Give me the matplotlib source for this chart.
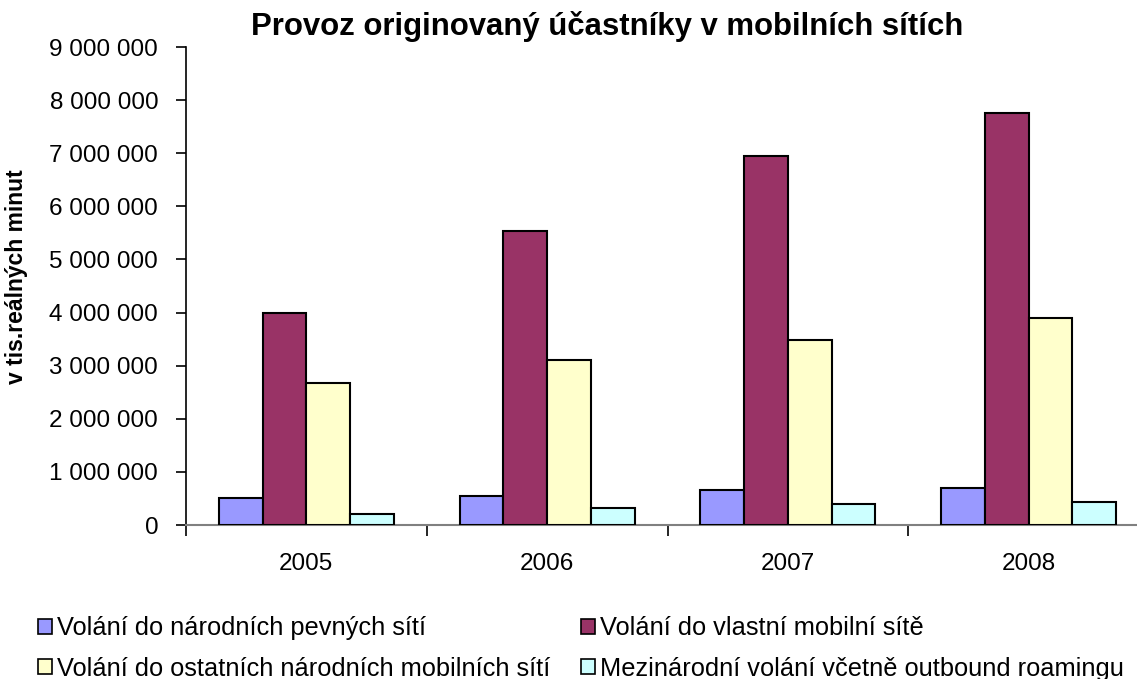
import numpy as np
import matplotlib.pyplot as plt
from matplotlib.patches import Patch
from matplotlib.ticker import FuncFormatter

plt.rcParams['font.family'] = ['Liberation Sans', 'DejaVu Sans']

years = ["2005", "2006", "2007", "2008"]
pevne = [515000, 540000, 660000, 700000]
vlastni = [4000000, 5540000, 6940000, 7750000]
ostatni = [2670000, 3110000, 3490000, 3890000]
mezinarodni = [207000, 320000, 400000, 430000]

labels = ["Volání do národních pevných sítí",
          "Volání do vlastní mobilní sítě",
          "Volání do ostatních národních mobilních sítí",
          "Mezinárodní volání včetně outbound roamingu"]
colors = ["#9999FF", "#993366", "#FFFFCC", "#CCFFFF"]
series = [pevne, vlastni, ostatni, mezinarodni]

fig = plt.figure(figsize=(11.37, 6.79), dpi=100)
ax = fig.add_axes([186 / 1137, 1 - 525 / 679, (1149 - 186) / 1137, (525 - 47) / 679])

x = np.arange(len(years))
w = 0.1817
for i, (vals, col) in enumerate(zip(series, colors)):
    ax.bar(x + (i - 1.5) * w, vals, width=w, color=col, edgecolor="black", linewidth=1.5, zorder=3)

ax.set_xlim(-0.5, 3.5)
ax.set_ylim(0, 9000000)
ax.set_yticks(np.arange(0, 9000001, 1000000))
ax.yaxis.set_major_formatter(FuncFormatter(lambda v, p: f"{int(v):,}".replace(",", " ")))
ax.set_xticks(x)
ax.set_xticklabels(years)
ax.set_xticks(np.arange(-0.5, 3.6, 1), minor=True)
ax.tick_params(axis="x", which="major", length=0, pad=20, labelsize=17.5)
ax.tick_params(axis="x", which="minor", length=8, width=1.2, color="black")
ax.tick_params(axis="y", length=7, width=1.2, pad=13, labelsize=17.5)

for s in ["top", "right"]:
    ax.spines[s].set_visible(False)
ax.spines["left"].set_linewidth(1.2)
ax.spines["bottom"].set_color("#808080")
ax.spines["bottom"].set_linewidth(1.5)

ax.set_ylabel("v tis.reálných minut", fontsize=16.5, fontweight="bold")
ax.yaxis.set_label_coords(-0.164, 0.52)
fig.text(607 / 1137, 1 - 27 / 679, "Provoz originovaný účastníky v mobilních sítích",
         ha="center", va="center", fontsize=22.4, fontweight="bold")

# legend fills column-first, so order handles to get row-wise layout
order = [0, 2, 1, 3]
handles = [Patch(facecolor=colors[i], edgecolor="black", linewidth=1.2) for i in order]
fig.legend(handles, [labels[i] for i in order], loc="upper left",
           bbox_to_anchor=(28 / 1137, 1 - 606 / 679),
           ncol=2, frameon=False, fontsize=18.3, handlelength=0.55, handleheight=0.55,
           handletextpad=0.2, columnspacing=1.2, labelspacing=0.65, borderaxespad=0)

fig.savefig("out.png", dpi=100)
